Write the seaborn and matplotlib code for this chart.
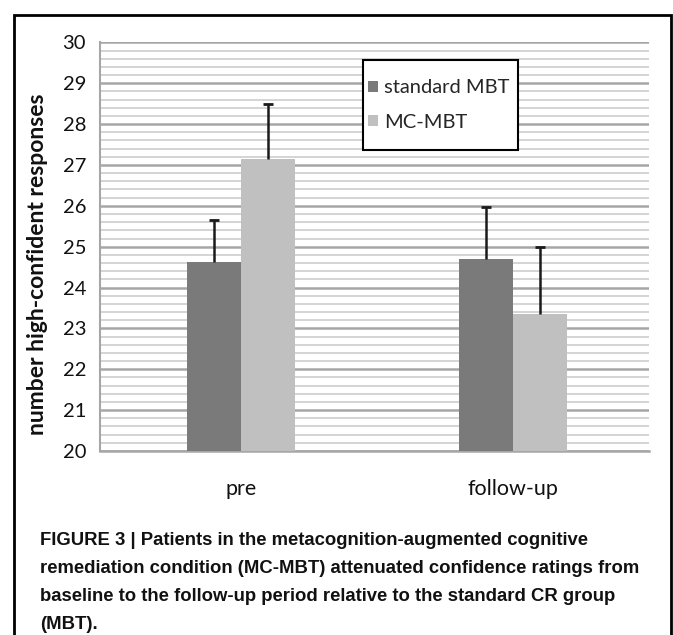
import pandas as pd
import seaborn as sns
import matplotlib.pyplot as plt
from matplotlib.patches import Rectangle
from matplotlib.ticker import MultipleLocator

# values
phases = ["pre", "follow-up"]
groups = ["standard MBT", "MC-MBT"]
standard_mbt = [24.62, 24.69]
mc_mbt = [27.15, 23.35]
standard_err = [1.04, 1.27]
mc_err = [1.35, 1.65]

caption = ("FIGURE 3 | Patients in the metacognition-augmented cognitive\n"
           "remediation condition (MC-MBT) attenuated confidence ratings from\n"
           "baseline to the follow-up period relative to the standard CR group\n"
           "(MBT).")

df = pd.DataFrame({
    "phase": phases * 2,
    "group": [groups[0]] * 2 + [groups[1]] * 2,
    "value": standard_mbt + mc_mbt,
    "err": standard_err + mc_err,
})

sns.set_style("white")
plt.rcParams["font.family"] = ["Lato", "DejaVu Sans"]

fig = plt.figure(figsize=(6.73, 6.35), dpi=100)
ax = fig.add_axes([100 / 673, 1 - 451 / 635, 549 / 673, 408.6 / 635])

palette = {"standard MBT": "#7a7a7a", "MC-MBT": "#c0c0c0"}
sns.barplot(data=df, x="phase", y="value", hue="group", order=phases,
            hue_order=groups, palette=palette, width=0.397, gap=0,
            errorbar=None, saturation=1, ax=ax, zorder=3, linewidth=0)

# upward-only error bars at the bar centres
for cont, g in zip(ax.containers, groups):
    sub = df[df["group"] == g].set_index("phase").loc[phases]
    xs = [p.get_x() + p.get_width() / 2 for p in cont.patches]
    _, caps, _ = ax.errorbar(xs, sub["value"],
                             yerr=[[0] * len(xs), sub["err"]],
                             fmt="none", ecolor="#1a1a1a", elinewidth=1.8,
                             capsize=3.8, capthick=2, zorder=4)
    caps[0].set_visible(False)

ax.set_ylim(20, 30)
ax.set_xlim(-0.518, 1.5)
ax.yaxis.set_major_locator(MultipleLocator(1))
ax.yaxis.set_minor_locator(MultipleLocator(0.2))
ax.grid(which="major", axis="y", color="#a6a6a6", lw=1.8, zorder=0)
ax.grid(which="minor", axis="y", color="#d4d4d4", lw=1.4, zorder=0)
ax.set_axisbelow(True)

for s in ["top", "right"]:
    ax.spines[s].set_visible(False)
ax.spines["left"].set_color("#a6a6a6")
ax.spines["left"].set_linewidth(1.5)
ax.spines["bottom"].set_color("#a6a6a6")
ax.spines["bottom"].set_linewidth(1.8)

ax.tick_params(axis="y", which="major", direction="out", length=4, width=1.5,
               color="#a6a6a6", labelsize=14.5, pad=6, labelcolor="#111111")
ax.tick_params(axis="y", which="minor", length=0)
ax.tick_params(axis="x", length=0, labelsize=15.5, pad=20, labelcolor="#111111")

ax.set_xlabel("")
ax.set_ylabel("number high-confident responses", fontsize=16.5,
              fontweight="bold", color="#111111")
ax.yaxis.set_label_coords(-0.094, 0.458)

leg = ax.legend(loc="center left", bbox_to_anchor=(368 / 673, 1 - 105 / 635),
                bbox_transform=fig.transFigure, frameon=False,
                fontsize=14.5, handlelength=0.5, handleheight=0.5,
                handletextpad=0.3, labelspacing=0.85,
                borderpad=0, borderaxespad=0)
leg.set_zorder(6)

# legend box (under the legend entries) and outer frame
ax.add_patch(Rectangle((363 / 673, 1 - 150 / 635), 155 / 673, 90 / 635,
                       transform=fig.transFigure, facecolor="white",
                       edgecolor="black", lw=1.5, zorder=5, clip_on=False))
fig.add_artist(Rectangle((14 / 673, -0.1), 657 / 673, 1.1 - 15 / 635,
                         transform=fig.transFigure, fill=False,
                         edgecolor="black", lw=2))

fig.text(40 / 673, 1 - 532 / 635, caption, ha="left", va="top",
         fontsize=13.3, fontweight="bold", linespacing=1.84,
         family=["Liberation Sans"], color="#111111")

fig.savefig("out.png", dpi=100)
